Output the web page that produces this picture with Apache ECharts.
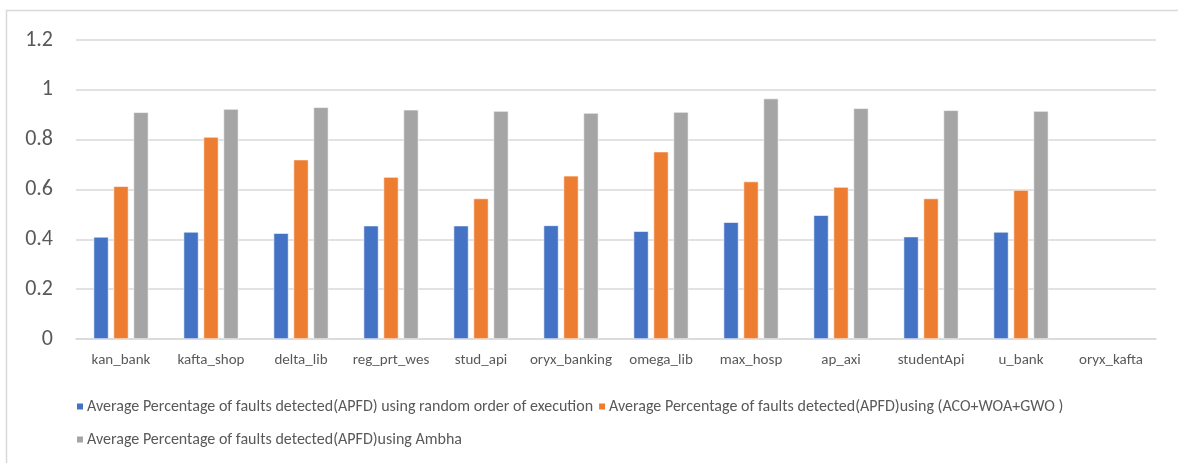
<!DOCTYPE html>
<html>
<head>
<meta charset="utf-8">
<script src="https://cdn.jsdelivr.net/npm/echarts@6/dist/echarts.min.js"></script>
<style>
  html, body { margin: 0; padding: 0; background: #fff; }
  #chart { width: 1178px; height: 463px; }
</style>
</head>
<body>
<div id="chart"></div>
<script>
// Projects under test
const categories = ['kan_bank', 'kafta_shop', 'delta_lib', 'reg_prt_wes', 'stud_api', 'oryx_banking',
  'omega_lib', 'max_hosp', 'ap_axi', 'studentApi', 'u_bank', 'oryx_kafta'];

// APFD per project for each prioritisation approach
const randomOrder = [0.410, 0.430, 0.425, 0.455, 0.455, 0.456, 0.433, 0.469, 0.497, 0.411, 0.430, null];
const acoWoaGwo   = [0.613, 0.811, 0.720, 0.650, 0.564, 0.655, 0.752, 0.632, 0.610, 0.564, 0.598, null];
const ambha       = [0.910, 0.923, 0.930, 0.920, 0.915, 0.907, 0.911, 0.965, 0.926, 0.918, 0.915, null];

const seriesNames = [
  'Average Percentage of faults detected(APFD) using random order of execution',
  'Average Percentage of faults detected(APFD)using (ACO+WOA+GWO )',
  'Average Percentage of faults detected(APFD)using Ambha'
];

const yTicks = [0, 0.2, 0.4, 0.6, 0.8, 1, 1.2];

const font = 'Carlito, "Open Sans", "Liberation Sans", sans-serif';
const textColor = '#595959';
const gridColor = '#d9d9d9';

const chart = echarts.init(document.getElementById('chart'), null, { renderer: 'canvas' });

function barSeries(name, data, color) {
  return {
    name: name,
    type: 'bar',
    data: data,
    barWidth: 15,
    barGap: '33%',
    itemStyle: { color: color, borderColor: '#ffffff', borderWidth: 0.6 },
    emphasis: { disabled: true }
  };
}

chart.setOption({
  animation: false,
  backgroundColor: '#ffffff',
  graphic: [
    {
      type: 'polyline',
      shape: { points: [[6.5, 463], [6.5, 10.5], [1178, 10.5]] },
      style: { stroke: '#d9d9d9', lineWidth: 1.5, fill: null },
      silent: true
    }
  ],
  grid: { left: 76, right: 22, top: 40, bottom: 124, containLabel: false },
  legend: {
    left: 70,
    top: 387,
    width: 1060,
    itemWidth: 8,
    itemHeight: 8,
    itemGap: 4,
    icon: 'rect',
    textStyle: {
      fontFamily: font,
      fontSize: 16,
      color: textColor,
      lineHeight: 29,
      padding: [0, 0, 0, -2]
    },
    data: seriesNames
  },
  xAxis: {
    type: 'category',
    data: categories,
    axisLine: { lineStyle: { color: gridColor, width: 1.5 } },
    axisTick: { show: false },
    axisLabel: { color: textColor, fontFamily: font, fontSize: 15, margin: 14, interval: 0 }
  },
  yAxis: {
    type: 'value',
    min: yTicks[0],
    max: yTicks[yTicks.length - 1],
    interval: 0.2,
    axisLine: { show: false },
    axisTick: { show: false },
    splitLine: { lineStyle: { color: gridColor, width: 1.5 } },
    axisLabel: {
      color: textColor,
      fontFamily: font,
      fontSize: 22,
      margin: 23,
      formatter: v => String(Math.round(v * 10) / 10)
    }
  },
  series: [
    barSeries(seriesNames[0], randomOrder, '#4472C4'),
    barSeries(seriesNames[1], acoWoaGwo, '#ED7D31'),
    barSeries(seriesNames[2], ambha, '#A5A5A5')
  ]
});
</script>
</body>
</html>
